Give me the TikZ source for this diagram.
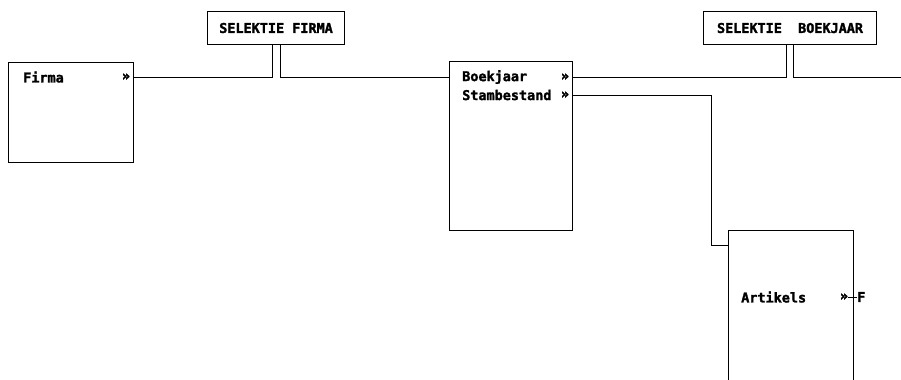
\documentclass[tikz,border=0pt]{standalone}
\usepackage{fontspec}
\newfontfamily\termfont[BoldFeatures={FakeBold=1.8}]{DejaVu Sans Mono}
\usetikzlibrary{positioning}

\begin{document}
\begin{tikzpicture}[x=0.03cm, y=-0.03cm,
    font=\termfont\bfseries\fontsize{11.5}{13}\selectfont,
    box/.style={draw, line width=0.9pt, anchor=north west, inner sep=0pt},
    lbl/.style={anchor=west, inner sep=0pt},
    pin/.style={inner sep=0pt},
    link/.style={line width=0.6pt}]
  \useasboundingbox (0,0) rectangle (901,379);
  \clip (0,0) rectangle (901,379);

  % schermen
  \node[box, minimum width=3.75cm, minimum height=3cm] (firma) at (8,62) {};
  \node[box, minimum width=3.69cm, minimum height=5.07cm] (boekjaar) at (449,61) {};
  \node[box, minimum width=3.75cm, minimum height=6cm] (artikels) at (728,230) {};
  \node[box, minimum width=4.11cm, minimum height=0.99cm] (selfirma) at (207,11) {SELEKTIE FIRMA};
  \node[box, minimum width=5.19cm, minimum height=0.99cm] (selboek) at (703,11) {SELEKTIE~~BOEKJAAR};

  % velden
  \node[lbl] (firmalbl) at (23,77) {Firma};
  \node[pin] (firmapin) at (126,77) {»};
  \node[lbl] (boeklbl) at (462,77) {Boekjaar};
  \node[pin] (boekpin) at (565,77) {»};
  \node[lbl] (stamlbl) at (462,95) {Stambestand};
  \node[pin] (stampin) at (565,95) {»};
  \node[lbl] (artlbl) at (741,297) {Artikels};
  \node[pin] (artpin) at (844,297) {»};
  \node[lbl] (fpin) at (857,297) {F};

  \coordinate (firmaport) at (firma.east |- firmapin);
  \coordinate (boekport) at (boekjaar.east |- boekpin);
  \coordinate (stamport) at (boekjaar.east |- stampin);
  \coordinate (knik) at (711,245);
  \coordinate (rand) at (901,77);

  \draw[link] (firmaport) -| ([xshift=-0.12cm]selfirma.south);
  \draw[link] ([xshift=0.12cm]selfirma.south) |- (boekjaar.west |- boekpin);
  \draw[link] (boekport) -| ([xshift=-0.11cm]selboek.south);
  \draw[link] ([xshift=0.11cm]selboek.south) |- (rand);
  \draw[link] (stamport) -| (knik) -- (artikels.west |- knik);
  \draw[link] (artpin.east) -- (fpin.west);
\end{tikzpicture}
\end{document}
